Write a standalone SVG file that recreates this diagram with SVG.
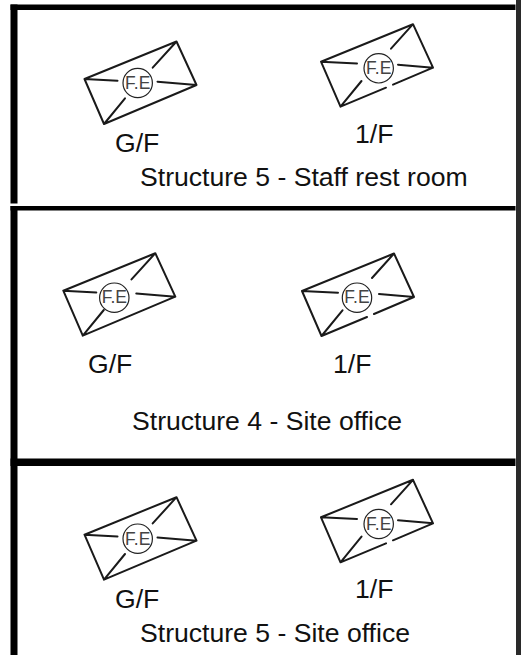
<svg xmlns="http://www.w3.org/2000/svg" width="523" height="655" viewBox="0 0 523 655">
<style>
text{font-family:"Liberation Sans",Arial,sans-serif;fill:#111}
.lab{font-size:26.6px}
.fe{font-size:17.5px;text-anchor:middle;fill:#444}
.env{fill:none;stroke:#1a1a1a;stroke-width:2;stroke-linecap:round;stroke-linejoin:round}
.c{fill:none;stroke:#222;stroke-width:1.2}
</style>
<defs>
<g id="a" class="env"><path d="M0 0L92 -37.5L112 6L19.5 45Z M0 0L33 1.7 M73 2.7L112 6 M92 -37.5L68.2 -11.3 M19.5 45L40.5 19.3"/></g>
<g id="b" class="env"><path d="M0 0L92 -37.5L112 6L72 23 M65 26L19.5 45L0 0 M0 0L36 1.7 M77 3L112 6 M92 -37.5L70 -13 M19.5 45L40.5 19.3"/></g>
</defs>
<rect width="523" height="655" fill="#fff"/>
<g id="frame" fill="#000">
<rect x="10.500" y="4.500" width="505" height="5.500"/>
<rect x="10.500" y="4.500" width="7" height="199"/>
<rect x="10.500" y="206" width="505" height="4.500"/>
<rect x="10.500" y="206" width="7" height="449"/>
<rect x="10.500" y="458.500" width="505" height="7.500"/>
<rect x="516" y="0" width="5" height="655" fill="#2a2a2a"/>
</g>
<g id="s5a"><use href="#a" x="84.500" y="79"/><circle class="c" cx="137.700" cy="83" r="14.700"/><text class="fe" x="137.700" y="88.700">F.E</text><text class="lab" x="115" y="152">G/F</text></g>
<g id="s5b"><use href="#b" x="321" y="61.700"/><circle class="c" cx="378.700" cy="68.300" r="14.700"/><text class="fe" x="378.700" y="74">F.E</text><text class="lab" x="355" y="143">1/F</text></g>
<text class="lab" id="t5a" x="140" y="186">Structure 5 - Staff rest room</text>
<g id="s4a"><use href="#a" x="63.300" y="290.700"/><circle class="c" cx="114.300" cy="297.700" r="14.700"/><text class="fe" x="114.300" y="303.300">F.E</text><text class="lab" x="88" y="373">G/F</text></g>
<g id="s4b"><use href="#b" x="302" y="291"/><circle class="c" cx="357" cy="297.700" r="14.700"/><text class="fe" x="357" y="303.300">F.E</text><text class="lab" x="333" y="373">1/F</text></g>
<text class="lab" id="t4" x="132" y="430">Structure 4 - Site office</text>
<g id="s3a"><use href="#a" x="84.500" y="534.700"/><circle class="c" cx="137.700" cy="538.700" r="14.700"/><text class="fe" x="137.700" y="544.700">F.E</text><text class="lab" x="115" y="607.700">G/F</text></g>
<g id="s3b"><use href="#b" x="321" y="517.300"/><circle class="c" cx="378.700" cy="524" r="14.700"/><text class="fe" x="378.700" y="530">F.E</text><text class="lab" x="355" y="597.700">1/F</text></g>
<text class="lab" id="t5b" x="140" y="641.700">Structure 5 - Site office</text>
</svg>
